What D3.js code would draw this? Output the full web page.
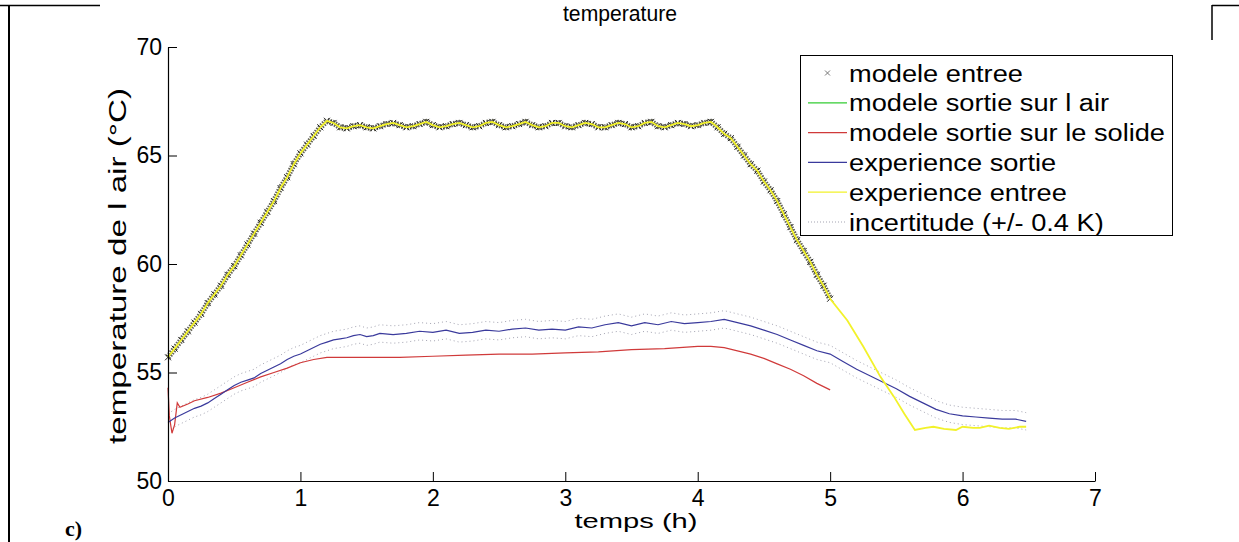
<!DOCTYPE html>
<html><head><meta charset="utf-8">
<script src="https://cdn.jsdelivr.net/npm/d3@7"></script>
<style>body{margin:0;background:#fff} svg{display:block} text{font-family:Arial,"Liberation Sans",sans-serif;fill:#000}</style>
</head><body><svg id="c" width="1239" height="542"></svg>
<script>
// ---------- data ----------
const xTicks = [0, 1, 2, 3, 4, 5, 6, 7];
const yTicks = [50, 55, 60, 65, 70];
const titleText = "temperature";
const xLabel = "temps (h)";
const yLabel = "temperature de l air (°C)";
const panelLabel = "c)";
const legendLabels = ["modele entree", "modele sortie sur l air", "modele sortie sur le solide",
  "experience sortie", "experience entree", "incertitude (+/- 0.4 K)"];
const uncertainty = 0.4;

// modele entree (markers) / experience entree (yellow) for 0..5 h
const entreeTime = [0,0.05,0.1,0.15,0.2,0.25,0.3,0.35,0.4,0.45,0.5,0.55,0.6,0.65,0.7,0.75,0.8,0.85,0.9,0.95,
  1,1.05,1.1,1.15,1.2,1.25,1.3,1.35,1.4,1.45,1.5,1.55,1.6,1.65,1.7,1.75,1.8,1.85,1.9,1.95,
  2,2.05,2.1,2.15,2.2,2.25,2.3,2.35,2.4,2.45,2.5,2.55,2.6,2.65,2.7,2.75,2.8,2.85,2.9,2.95,
  3,3.05,3.1,3.15,3.2,3.25,3.3,3.35,3.4,3.45,3.5,3.55,3.6,3.65,3.7,3.75,3.8,3.85,3.9,3.95,
  4,4.05,4.1,4.15,4.2,4.25,4.3,4.35,4.4,4.45,4.5,4.55,4.6,4.65,4.7,4.75,4.8,4.85,4.9,4.95,5];
const entreeTemp = [55.7,56.1,56.5,56.9,57.3,57.7,58.2,58.6,59.0,59.5,59.9,60.4,60.9,61.4,61.9,62.4,62.9,63.5,64.0,64.6,
  65.1,65.5,65.9,66.3,66.6,66.5,66.3,66.25,66.35,66.4,66.3,66.25,66.35,66.45,66.5,66.4,66.3,66.35,66.45,66.55,
  66.4,66.3,66.35,66.45,66.5,66.4,66.3,66.35,66.5,66.55,66.4,66.3,66.35,66.45,66.55,66.4,66.3,66.35,66.5,66.5,
  66.35,66.3,66.4,66.5,66.45,66.3,66.3,66.4,66.5,66.45,66.3,66.35,66.5,66.55,66.35,66.3,66.4,66.5,66.45,66.35,
  66.4,66.5,66.55,66.3,66.0,65.8,65.4,65.0,64.6,64.3,63.8,63.4,62.9,62.3,61.7,61.1,60.6,60.1,59.5,59.0,58.4];
// experience entree continuation after 5 h
const entreeTailTime = [5,5.13,5.25,5.38,5.48,5.56,5.64,5.72,5.78,5.86,5.95,6.0,6.08,6.13,6.2,6.28,6.35,6.43,6.48];
const entreeTailTemp = [58.4,57.4,56.2,54.8,53.9,53.1,52.35,52.45,52.5,52.4,52.35,52.5,52.45,52.45,52.55,52.45,52.4,52.5,52.5];

// experience sortie
const sortieTime = [0,0.05,0.1,0.15,0.2,0.25,0.3,0.35,0.4,0.45,0.5,0.55,0.6,0.65,0.7,0.75,0.8,0.85,0.9,0.95,
  1,1.05,1.1,1.15,1.2,1.25,1.3,1.35,1.4,1.45,1.5,1.55,1.6,1.7,1.8,1.9,2,2.1,2.2,2.3,2.4,2.5,2.6,2.7,2.8,2.9,
  3,3.1,3.2,3.3,3.4,3.5,3.6,3.7,3.8,3.9,4,4.1,4.2,4.3,4.4,4.5,4.6,4.7,4.8,4.9,5,5.1,5.2,5.3,5.4,5.5,5.6,5.7,
  5.8,5.9,6,6.1,6.2,6.3,6.4,6.48];
const sortieTemp = [52.7,52.9,53.05,53.2,53.35,53.45,53.6,53.8,54.0,54.2,54.4,54.55,54.65,54.75,54.95,55.1,55.25,55.4,55.6,55.75,
  55.85,56.0,56.15,56.3,56.4,56.5,56.55,56.6,56.7,56.75,56.65,56.7,56.8,56.75,56.8,56.9,56.85,56.95,56.8,56.85,56.95,
  56.9,57.0,57.05,56.95,57.0,56.95,57.1,57.05,57.2,57.3,57.15,57.3,57.2,57.35,57.25,57.3,57.35,57.45,57.3,57.15,
  56.95,56.75,56.5,56.25,56.0,55.85,55.5,55.15,54.85,54.55,54.25,53.9,53.6,53.3,53.1,53.0,52.95,52.9,52.85,52.85,52.75];

// modele sortie sur le solide
const solideTime = [0,0.01,0.03,0.05,0.07,0.09,0.15,0.2,0.3,0.4,0.5,0.6,0.7,0.8,0.9,1.0,1.1,1.2,1.3,1.5,1.75,
  2.0,2.25,2.5,2.75,3.0,3.25,3.5,3.75,4.0,4.1,4.2,4.3,4.4,4.5,4.6,4.7,4.8,4.9,5.0];
const solideTemp = [54.3,53.0,52.2,52.6,53.6,53.4,53.55,53.7,53.85,54.05,54.3,54.55,54.8,55.0,55.2,55.45,55.6,55.7,55.7,55.7,55.7,
  55.75,55.8,55.85,55.85,55.9,55.95,56.05,56.1,56.2,56.2,56.15,56.0,55.85,55.65,55.4,55.15,54.85,54.5,54.2];

// ---------- styles ----------
const colGreen = "#33cc33", colRed = "#d03a3a", colBlue = "#3a3a9c", colYellow = "#f2f22a", colDot = "#a4a4b2";

const svg = d3.select("#c");
const x = d3.scaleLinear().domain([0, 7]).range([168, 1095]);
const y = d3.scaleLinear().domain([50, 70]).range([481, 47]);

// table-cell border lines
svg.append("line").attr("x1",0).attr("x2",100).attr("y1",5.5).attr("y2",5.5).attr("stroke","#000").attr("stroke-width",1.5);
svg.append("line").attr("x1",1212).attr("x2",1239).attr("y1",5.5).attr("y2",5.5).attr("stroke","#000").attr("stroke-width",1.5);
svg.append("line").attr("x1",9).attr("x2",9).attr("y1",5).attr("y2",542).attr("stroke","#000").attr("stroke-width",2);
svg.append("line").attr("x1",1212).attr("x2",1212).attr("y1",5).attr("y2",40).attr("stroke","#000").attr("stroke-width",1.5);

const zip = (ts, vs) => ts.map((t, i) => [t, vs[i]]);
const line = d3.line().x(d => x(d[0])).y(d => y(d[1]));

const entree = zip(entreeTime, entreeTemp);
const entreeFull = entree.concat(zip(entreeTailTime, entreeTailTemp).slice(1));
const sortie = zip(sortieTime, sortieTemp);
const solide = zip(solideTime, solideTemp);

// uncertainty bands
[uncertainty, -uncertainty].forEach(o => {
  svg.append("path").datum(sortie.map(d => [d[0], d[1] + o])).attr("d", line)
    .attr("fill","none").attr("stroke",colDot).attr("stroke-width",1).attr("stroke-dasharray","1,3");
});
svg.append("path").datum(solide).attr("d", line).attr("fill","none").attr("stroke",colRed).attr("stroke-width",1.2);
svg.append("path").datum(sortie).attr("d", line).attr("fill","none").attr("stroke",colBlue).attr("stroke-width",1.2);

// dense marker band for modele entree
svg.append("path").datum(entree).attr("d", line).attr("fill","none")
  .attr("stroke","#3b3b2a").attr("stroke-width",6).attr("stroke-dasharray","1.5,1.2").attr("opacity",0.8);
const ms = 3;
const mk = svg.append("g").attr("stroke","#222").attr("stroke-width",1);
mk.selectAll("path").data(entree).join("path")
  .attr("d", d => { const cx = x(d[0]), cy = y(d[1]); return `M${cx-ms},${cy-ms}L${cx+ms},${cy+ms}M${cx-ms},${cy+ms}L${cx+ms},${cy-ms}`; });
svg.append("path").datum(entreeFull).attr("d", line).attr("fill","none").attr("stroke",colYellow).attr("stroke-width",1.8);

// axes
const gx = svg.append("g").attr("transform", `translate(0,${y(50)})`)
  .call(d3.axisBottom(x).tickValues(xTicks).tickSizeInner(-9).tickSizeOuter(0).tickPadding(9).tickFormat(d3.format("d")));
const gy = svg.append("g").attr("transform", `translate(${x(0)},0)`)
  .call(d3.axisLeft(y).tickValues(yTicks).tickSizeInner(-9).tickSizeOuter(0).tickPadding(6).tickFormat(d3.format("d")));
[gx, gy].forEach(g => {
  g.select(".domain").attr("stroke","#000").attr("stroke-width",1.2);
  g.selectAll(".tick line").attr("stroke","#000").attr("stroke-width",1);
  g.selectAll(".tick text").attr("font-size",23).attr("font-family","Arial, 'Liberation Sans', sans-serif").attr("fill","#000");
});
gx.selectAll(".tick text").attr("dy","0.71em");

// title and labels
svg.append("text").attr("x",620).attr("y",21).attr("text-anchor","middle").attr("font-size",21.5)
  .attr("textLength",114).attr("lengthAdjust","spacingAndGlyphs").text(titleText);
svg.append("text").attr("x",636).attr("y",528).attr("text-anchor","middle").attr("font-size",21)
  .attr("textLength",123).attr("lengthAdjust","spacingAndGlyphs").text(xLabel);
svg.append("text").attr("transform","translate(126,266) rotate(-90)").attr("text-anchor","middle").attr("font-size",23)
  .attr("textLength",356).attr("lengthAdjust","spacingAndGlyphs").text(yLabel);
svg.append("text").attr("x",65).attr("y",536).attr("font-size",22).attr("font-weight","bold")
  .style("font-family","'Liberation Serif','Times New Roman',serif").text(panelLabel);

// legend
const lg = svg.append("g");
lg.append("rect").attr("x",800.5).attr("y",55.5).attr("width",372).attr("height",180)
  .attr("fill","#fff").attr("stroke","#000").attr("stroke-width",1);
const rowY = i => 73 + i * 29.8;
const legendStyles = [
  {type:"marker"}, {type:"line", c:colGreen}, {type:"line", c:colRed},
  {type:"line", c:colBlue}, {type:"line", c:colYellow}, {type:"dot", c:colDot}];
const texts = [];
legendLabels.forEach((lab, i) => {
  const cy = rowY(i), st = legendStyles[i];
  if (st.type === "marker") {
    lg.append("path").attr("d", `M${825},${cy-2.5}L${830},${cy+2.5}M${825},${cy+2.5}L${830},${cy-2.5}`)
      .attr("stroke","#777").attr("stroke-width",1);
  } else {
    lg.append("line").attr("x1",808).attr("x2",847).attr("y1",cy).attr("y2",cy)
      .attr("stroke",st.c).attr("stroke-width",1.2).attr("stroke-dasharray", st.type === "dot" ? "1,2" : null);
  }
  texts.push(lg.append("text").attr("x",849).attr("y",cy + 8.5).attr("font-size",23).text(lab));
});
const ref = texts[2].node().getComputedTextLength();
const s = 316 / ref;
texts.forEach(t => { const w = t.node().getComputedTextLength(); t.attr("textLength", w * s).attr("lengthAdjust","spacingAndGlyphs"); });
</script></body></html>
